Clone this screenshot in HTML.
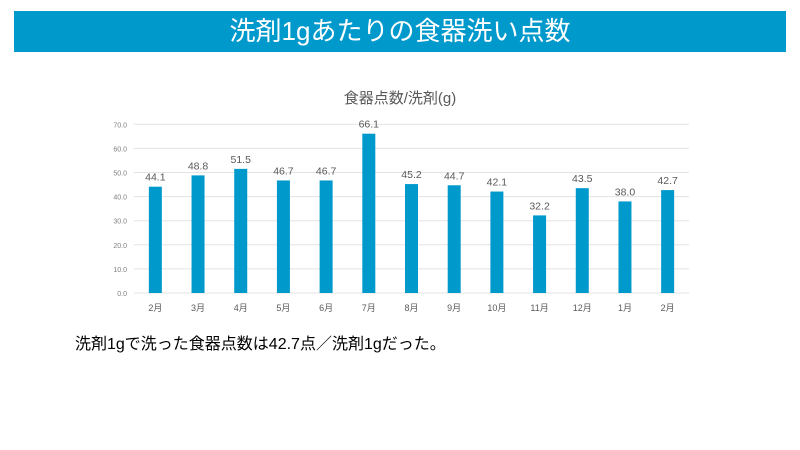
<!DOCTYPE html>
<html><head><meta charset="utf-8"><style>
body{margin:0;width:800px;height:450px;background:#fff;overflow:hidden;font-family:"Liberation Sans","Noto Sans CJK JP",sans-serif;position:relative}
#bar{position:absolute;left:14px;top:11px;width:772px;height:41px;background:#0099cc;color:#fff;font-size:26px;text-align:center;line-height:41px}
#note{position:absolute;left:75px;top:330px;font-size:16px;color:#000}
svg{position:absolute;left:0;top:0}
</style></head><body>
<div id="bar">洗剤1gあたりの食器洗い点数</div>
<svg id="chart" width="800" height="450">
<text x="400" y="103" text-anchor="middle" font-size="15" fill="#595959">食器点数/洗剤(g)</text>
</svg>
<div id="note">洗剤1gで洗った食器点数は42.7点／洗剤1gだった。</div>
<script>
const categories=["2月","3月","4月","5月","6月","7月","8月","9月","10月","11月","12月","1月","2月"];
const values=[44.1,48.8,51.5,46.7,46.7,66.1,45.2,44.7,42.1,32.2,43.5,38.0,42.7];
const ticks=[0,10,20,30,40,50,60,70];
const svg=document.getElementById('chart');
const NS='http://www.w3.org/2000/svg';
const x0=134,x1=689,y0=293,yTop=124.3,vmax=70;
const y=v=>y0-(v/vmax)*(y0-yTop);
const band=(x1-x0)/categories.length;
const xc=i=>x0+band*(i+0.5);
function mk(t,a){const e=document.createElementNS(NS,t);for(const k in a)e.setAttribute(k,a[k]);svg.appendChild(e);return e;}
ticks.forEach(t=>{
 const l=mk('line',{x1:x0,x2:x1,y1:y(t),y2:y(t),stroke:'#e3e3e3','stroke-width':1});
 
 
 const tx=mk('text',{x:127,y:y(t)+3,'text-anchor':'end','font-size':7,fill:'#7f7f7f'});
 tx.textContent=t.toFixed(1);
 
 
});
values.forEach((v,i)=>{
 const r=mk('rect',{x:xc(i)-6.5,y:y(v),width:13,height:y0-y(v),fill:'#0099cc'});
 
 
 const lb=mk('text',{x:xc(i),y:y(v)-6,'text-anchor':'middle','font-size':10.5,fill:'#595959'});
 lb.textContent=v.toFixed(1);
 
 
 const c=mk('text',{x:xc(i),y:311,'text-anchor':'middle','font-size':9,fill:'#595959'});
 c.textContent=categories[i];
 
 
});
</script>
</body></html>
